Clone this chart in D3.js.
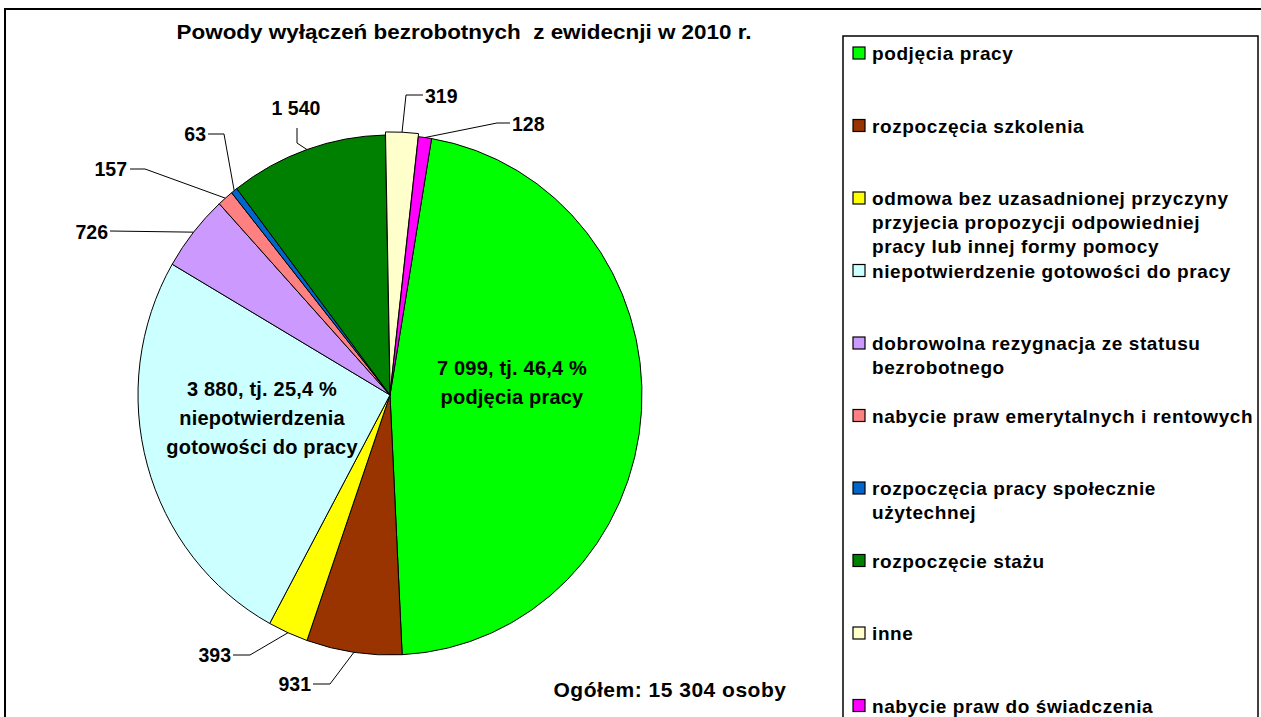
<!DOCTYPE html>
<html>
<head>
<meta charset="utf-8">
<script src="https://cdn.jsdelivr.net/npm/d3@7"></script>
<style>
  body { margin: 0; background: #fff; }
  svg text { font-family: "Liberation Sans", Arial, sans-serif; font-weight: bold; fill: #000; }
</style>
</head>
<body>
<svg id="chart" width="1261" height="717"></svg>
<script>
// data
let categories = ['podjęcia pracy', 'rozpoczęcia szkolenia',
    'odmowa bez uzasadnionej przyczyny\nprzyjecia propozycji odpowiedniej\npracy lub innej formy pomocy',
    'niepotwierdzenie gotowości do pracy', 'dobrowolna rezygnacja ze statusu\nbezrobotnego',
    'nabycie praw emerytalnych i rentowych', 'rozpoczęcia pracy społecznie\nużytechnej',
    'rozpoczęcie stażu', 'inne', 'nabycie praw do świadczenia'];
let values = [7099, 931, 393, 3880, 726, 157, 63, 1540, 319, 128];
let colors = ['#00ff00', '#993300', '#ffff00', '#ccffff', '#cc99ff', '#ff8080', '#0066cc', '#008000', '#ffffcc', '#ff00ff'];
let total = 15304;
let insideNames = {0: ['podjęcia pracy'], 3: ['niepotwierdzenia', 'gotowości do pracy']};
let titleText = 'Powody wyłączeń bezrobotnych  z ewidecnji w 2010 r.';

let svg = d3.select('#chart');
let pl = d3.formatLocale({decimal: ',', thousands: '\u00a0', grouping: [3], currency: ['', '']});
let fmtInt = pl.format(',d');
let fmtPct = pl.format('.1f');

// frame
svg.append('rect').attr('x', 5).attr('y', 9).attr('width', 1300).attr('height', 800)
    .attr('fill', 'none').attr('stroke', '#000').attr('stroke-width', 2);

svg.append('text').attr('x', 464).attr('y', 39).attr('text-anchor', 'middle')
    .style('font-size', '20px').attr('textLength', 575).attr('lengthAdjust', 'spacingAndGlyphs')
    .style('white-space', 'pre').text(titleText);

// pie
let cx = 390, cy = 395, rx = 252, ry = 260;
let start = 9.5 * Math.PI / 180;
let pie = d3.pie().sort(null).startAngle(start).endAngle(start + 2 * Math.PI);
let arcs = pie(values);
let arc = d3.arc().innerRadius(0).outerRadius(rx);
let explode = {8: 3};

let pieG = svg.append('g').attr('transform', `translate(${cx},${cy}) scale(1,${ry / rx})`);
pieG.selectAll('path').data(arcs).join('path')
    .attr('d', arc)
    .attr('transform', (d, i) => {
        let e = explode[i] || 0, m = (d.startAngle + d.endAngle) / 2;
        return `translate(${e * Math.sin(m)},${-e * Math.cos(m)})`;
    })
    .attr('fill', (d, i) => colors[i])
    .attr('stroke', '#000').attr('stroke-width', 1)
    .attr('vector-effect', 'non-scaling-stroke');

function edgePoint(d, i){
    let m = (d.startAngle + d.endAngle) / 2, e = explode[i] || 0;
    return [cx + (rx + e) * Math.sin(m), cy - (ry + e) * Math.cos(m)];
}

// outside labels: elbow, end of line, text anchor point
let labelLayout = {
    1: {elbow: [330, 684], end: [313, 684], text: [311, 684], anchor: 'end'},
    2: {elbow: [250, 655], end: [233, 655], text: [231, 655], anchor: 'end'},
    4: {elbow: [110, 231], end: [110, 231], text: [108, 232], anchor: 'end'},
    5: {elbow: [145, 169], end: [130, 169], text: [127, 169], anchor: 'end'},
    6: {elbow: [224, 134], end: [208, 134], text: [206, 134], anchor: 'end'},
    7: {elbow: [297, 143], end: [297, 128], text: [296, 108], anchor: 'middle'},
    8: {elbow: [406, 95], end: [423, 95], text: [425, 96], anchor: 'start'},
    9: {elbow: [497, 123], end: [510, 123], text: [512, 124], anchor: 'start'}
};

let outside = arcs.map((d, i) => ({d: d, i: i})).filter(o => labelLayout[o.i]);
svg.selectAll('.leader').data(outside).join('polyline')
    .classed('leader', true)
    .attr('points', o => {
        let p = edgePoint(o.d, o.i), L = labelLayout[o.i];
        return [p, L.elbow, L.end].map(q => q.join(',')).join(' ');
    })
    .attr('fill', 'none').attr('stroke', '#000').attr('stroke-width', 1);

svg.selectAll('.outLabel').data(outside).join('text')
    .classed('outLabel', true)
    .attr('x', o => labelLayout[o.i].text[0])
    .attr('y', o => labelLayout[o.i].text[1])
    .attr('text-anchor', o => labelLayout[o.i].anchor)
    .attr('dominant-baseline', 'central')
    .style('font-size', '19.5px')
    .text(o => fmtInt(o.d.value));

// inside labels
let insidePos = {0: [512, 368], 3: [262, 389]};
Object.keys(insidePos).forEach(k => {
    let i = +k, p = insidePos[k];
    let lines = [fmtInt(values[i]) + ', tj. ' + fmtPct(values[i] / total * 100) + ' %'].concat(insideNames[i]);
    svg.append('text').attr('x', p[0]).attr('y', p[1])
        .attr('text-anchor', 'middle').attr('dominant-baseline', 'central')
        .style('font-size', '20px').style('letter-spacing', '0.2px')
        .selectAll('tspan').data(lines).join('tspan')
        .attr('x', p[0]).attr('dy', (l, j) => j == 0 ? 0 : 29)
        .text(l => l);
});

svg.append('text').attr('x', 670).attr('y', 689).attr('text-anchor', 'middle')
    .attr('dominant-baseline', 'central')
    .style('font-size', '21px').style('letter-spacing', '0.5px')
    .text('Ogółem: ' + fmtInt(total) + ' osoby');

// legend
let legend = svg.append('g');
legend.append('rect').attr('x', 843).attr('y', 36).attr('width', 415).attr('height', 720)
    .attr('fill', '#fff').attr('stroke', '#000').attr('stroke-width', 1.5);

let ly = d3.scaleLinear().domain([0, categories.length - 1]).range([53, 705.5]);
let items = legend.selectAll('.item').data(categories).join('g')
    .classed('item', true)
    .attr('transform', (d, i) => `translate(853,${ly(i)})`);
items.append('rect').attr('x', 0).attr('y', -6).attr('width', 12).attr('height', 12)
    .attr('fill', (d, i) => colors[i]).attr('stroke', '#000').attr('stroke-width', 1.2);
items.append('text').attr('x', 19).attr('y', 0)
    .attr('dominant-baseline', 'central')
    .style('font-size', '19px').style('letter-spacing', '0.6px')
    .selectAll('tspan').data(d => d.split('\n')).join('tspan')
    .attr('x', 19).attr('dy', (l, j) => j == 0 ? 0 : 24)
    .text(l => l);
</script>
</body>
</html>
